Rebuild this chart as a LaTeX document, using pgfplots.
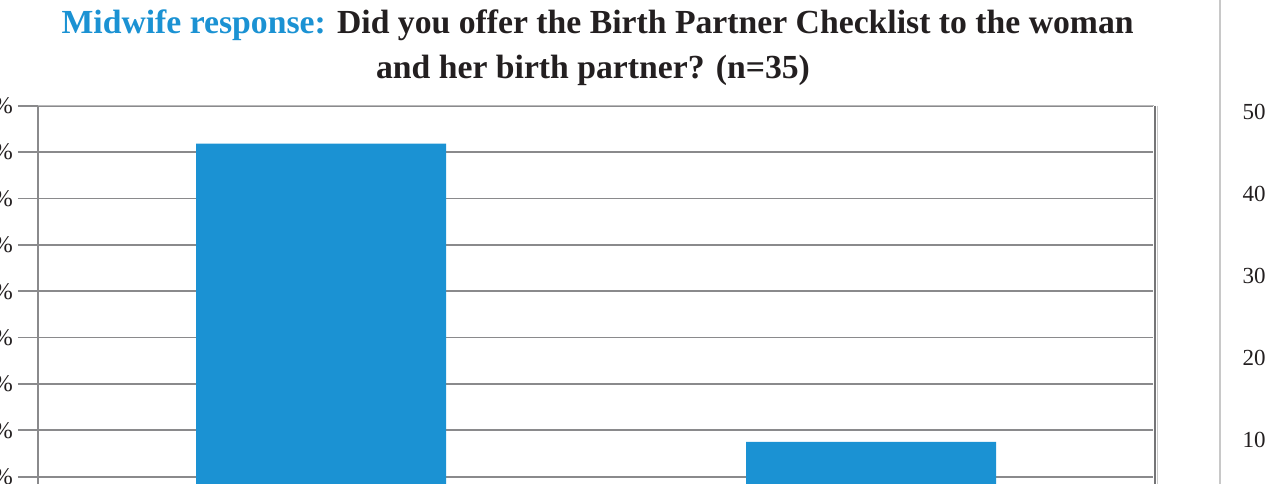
\documentclass[border=0pt]{standalone}
\usepackage{fontspec}
\setmainfont{Liberation Serif}
\usepackage{pgfplots}
\pgfplotsset{compat=1.18}
\definecolor{barblue}{RGB}{27,146,211}
\definecolor{titledark}{RGB}{35,31,32}
\definecolor{gridgray}{RGB}{138,138,140}
\definecolor{sepgray}{RGB}{200,200,200}
\begin{document}
\begin{tikzpicture}
\useasboundingbox (0,0) rectangle (633.5pt,241.5pt);
\clip (0,0) rectangle (633.5pt,241.5pt);
% title
\node[anchor=base, font=\fontsize{16.85}{20}\selectfont\bfseries, text=titledark, inner sep=0pt] at (298.8pt,224.5pt)
  {\textcolor{barblue}{Midwife response:} Did you offer the Birth Partner Checklist to the woman};
\node[anchor=base, font=\fontsize{16.85}{20}\selectfont\bfseries, text=titledark, inner sep=0pt] at (296.5pt,202pt)
  {and her birth partner? (n=35)};
% main chart
\begin{axis}[
  at={(19pt,-20.05pt)}, anchor=south west,
  scale only axis, width=557.5pt, height=208.7pt,
  xmin=38, xmax=1153, ymin=0, ymax=90,
  xtick=\empty,
  ytick={0,10,...,90},
  yticklabel={\pgfmathprintnumber{\tick}\%},
  /pgf/number format/assume math mode=true,
  ymajorgrids, grid style={gridgray, line width=0.9pt},
  major tick length=10pt, tick align=outside,
  tick style={gridgray, line width=0.9pt},
  axis y line*=left, axis x line=none,
  y axis line style={gridgray, line width=1.1pt},
  yticklabel style={font=\fontsize{12}{14}\selectfont, text=titledark, xshift=1pt},
  ybar, bar width=125pt,
]
\addplot[fill=barblue, draw=none] coordinates {(321,81.8) (871,17.5)};
\end{axis}
% right border of main chart frame
\draw[gridgray!85!black, line width=1.2pt] (577.5pt,188.7pt) -- (577.5pt,-5pt);
\draw[sepgray, line width=0.6pt] (578.7pt,188.7pt) -- (578.7pt,-5pt);
\draw[gridgray!60, line width=0.6pt] (19pt,188.9pt) -- (577pt,188.9pt);
% separator of the neighbouring panel
\draw[sepgray, line width=1.1pt] (609.8pt,-5pt) -- (609.8pt,250pt);
% neighbouring chart (partially visible)
\begin{axis}[
  at={(640pt,-19.5pt)}, anchor=south west,
  scale only axis, width=60pt, height=246pt,
  xmin=0, xmax=1, ymin=0, ymax=60,
  xtick=\empty, ytick={10,20,30,40,50},
  axis x line=none, axis y line*=left,
  y axis line style={draw=none},
  major tick length=0pt,
  /pgf/number format/assume math mode=true,
  yticklabel style={font=\fontsize{11.5}{13}\selectfont, text=titledark, inner sep=0pt, anchor=east, xshift=-7pt},
]
\addplot[draw=none] coordinates {(0,0) (1,60)};
\end{axis}
\end{tikzpicture}
\end{document}
